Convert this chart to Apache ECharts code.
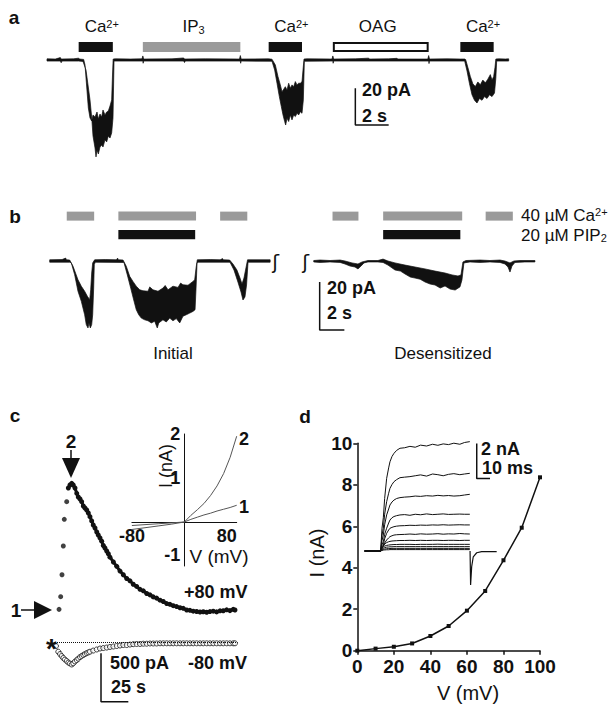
<!DOCTYPE html>
<html><head><meta charset="utf-8">
<script src="https://cdn.jsdelivr.net/npm/echarts@6/dist/echarts.min.js"></script>
<style>html,body{margin:0;padding:0;background:#fff}#c{width:615px;height:705px}</style>
</head><body><div id="c"></div>
<script>
// ================= DATA =================
// Panel a: current trace envelope [time s, current pA]
const aTraceUpper = [[0,0.6],[0.5,0.5],[0.8,1.3],[0.85,0.5],[1.6,0.6],[1.9,1.0],[1.95,0.5],[2.2,0.3],[2.28,-2.7],[2.48,-26.2],[2.58,-31.6],[2.68,-33.3],[2.76,-30],[2.88,-31.1],[3.0,-28.4],[3.08,-32.2],[3.18,-29.5],[3.28,-31.1],[3.36,-27.3],[3.48,-30],[3.58,-28.4],[3.68,-27.8],[3.78,-25.1],[3.88,-21.8],[3.93,-8.2],[3.97,0.5],
[4.1,0.6],[5.0,0.5],[5.7,0.6],[5.75,2.2],[5.8,0.5],[7.5,0.6],[8.2,1.1],[8.25,0.5],[9.5,0.6],[11.55,0.5],[11.6,2.4],[11.65,0.5],[13.3,0.6],[13.5,0.4],
[13.7,-2.7],[13.86,-9.1],[14.0,-13.6],[14.1,-17.3],[14.2,-16],[14.3,-14.6],[14.4,-16.4],[14.5,-12.7],[14.6,-15.4],[14.7,-13.6],[14.8,-14.6],[14.9,-11.8],[15.0,-13.6],[15.1,-12.7],[15.2,-12.7],[15.3,-11.8],[15.36,-5.5],[15.42,0.5],
[15.6,0.6],[17.1,0.5],[17.15,2.2],[17.2,0.5],[18.5,0.6],[19.3,1.0],[19.35,0.5],[20.5,0.6],[21.0,0.9],[21.05,0.5],[22.85,0.5],[22.9,2.4],[22.95,0.5],[24.0,0.6],[24.8,0.5],[25.06,0.5],
[25.12,0.2],[25.25,-4],[25.4,-9],[25.55,-13],[25.7,-14.5],[25.85,-12],[26.0,-13.5],[26.15,-11],[26.3,-12.5],[26.45,-10.5],[26.6,-8],[26.7,-11],[26.8,-9],[26.88,-4],[26.93,0.5],
[27.1,0.6],[27.5,0.5],[27.7,0.6]];
const aTraceLower = [[0,-0.6],[0.8,-0.6],[0.85,-1.5],[0.9,-0.6],[1.9,-0.6],[2.16,-0.8],[2.34,-5.5],[2.46,-13.6],[2.58,-21.8],[2.68,-31.1],[2.76,-41.5],[2.88,-48],[2.94,-52.9],[3.0,-49.1],[3.08,-51.3],[3.18,-47.5],[3.28,-46.4],[3.36,-47.5],[3.48,-43.6],[3.58,-44.7],[3.68,-41.5],[3.78,-42.6],[3.88,-39.8],[3.96,-31.6],[4.02,-0.6],
[5.75,-0.6],[5.77,-1.8],[5.8,-0.6],[8.2,-0.6],[8.25,-1.4],[8.3,-0.6],[11.6,-0.6],[11.62,-1.8],[11.65,-0.6],[13.5,-0.7],
[13.66,-5.5],[13.8,-12.7],[13.94,-20],[14.06,-25.5],[14.16,-30],[14.26,-33.6],[14.32,-35.5],[14.4,-31.8],[14.5,-33.6],[14.6,-30],[14.7,-32.7],[14.8,-30],[14.9,-30.9],[15.0,-29.1],[15.1,-30],[15.2,-28.2],[15.3,-29.1],[15.38,-21.8],[15.44,-0.7],
[17.15,-0.6],[17.17,-1.8],[17.2,-0.6],[22.9,-0.6],[22.92,-2.0],[22.95,-0.6],[25.06,-0.6],
[25.2,-6],[25.35,-13],[25.5,-19],[25.65,-22],[25.8,-23.5],[25.95,-21],[26.1,-22],[26.25,-20],[26.4,-21],[26.55,-19],[26.7,-20],[26.85,-18],[26.93,-10],[26.98,-0.6],
[27.7,-0.6]];
const aStimStart = [1.9, 5.75, 13.3, 17.15, 24.8];
const aStimEnd   = [3.95, 11.6, 15.3, 22.9, 26.8];
const aStimLabel = ['Ca^2+', 'IP_3', 'Ca^2+', 'OAG', 'Ca^2+'];
const aStimKind  = ['ca', 'ip3', 'ca', 'oag', 'ca'];
const aScale = {t: 18.5, i: -35.5, dt: 2, di: 20};
const aScaleLabels = ['20 pA', '2 s'];

// Panel b
const bInitUpper = [[0,0.5],[1.0,0.6],[1.3,1.2],[1.35,0.5],[1.62,0.4],[1.89,-2.2],[2.29,-7.8],[2.56,-10.5],[2.83,-12.6],[3.05,-14.7],[3.24,-16.1],[3.32,-12],[3.40,-5],[3.48,-0.8],[3.64,0.5],[4.5,0.6],[5.4,0.5],[5.5,1.2],[5.55,0.5],[5.94,0.4],
[6.2,-2.2],[6.48,-6.4],[6.74,-8.5],[7.01,-10.5],[7.29,-12],[7.55,-12.4],[7.96,-12.6],[8.1,-10.8],[8.36,-12],[8.77,-12.6],[9.17,-11.3],[9.35,-10.2],[9.58,-12],[9.98,-10.5],[10.39,-11],[10.6,-9.2],[10.79,-9.9],[11.2,-10.1],[11.6,-8.5],[11.74,-7.8],[11.85,-2.9],[11.95,0.5],
[13.0,0.6],[13.8,0.5],[14.0,1.0],[14.05,0.5],[14.57,0.4],[14.84,-1.25],[15.16,-3.75],[15.41,-7.1],[15.57,-9.6],[15.73,-7.1],[15.89,-2.9],[16.02,0.5],[17.85,0.5]];
const bInitLower = [[0,-0.5],[1.62,-0.5],[1.75,-0.8],[2.02,-5.7],[2.29,-12.6],[2.56,-16.8],[2.83,-22.4],[2.96,-26.5],[3.10,-27.9],[3.18,-25.8],[3.29,-27.9],[3.40,-26.5],[3.48,-22.4],[3.56,-11.3],[3.61,-1.5],[3.69,-0.5],
[6.0,-0.6],[6.02,-0.8],[6.28,-5.7],[6.56,-11.3],[6.83,-16.8],[7.01,-20.3],[7.21,-22.4],[7.42,-23.8],[7.69,-24.5],[7.96,-24.9],[8.23,-25.8],[8.5,-25.1],[8.71,-27.9],[8.83,-25.8],[9.17,-24.5],[9.44,-25.4],[9.72,-23.8],[9.98,-24.9],[10.25,-24],[10.53,-25.8],[10.79,-23],[11.06,-22.4],[11.34,-21.7],[11.6,-21],[11.77,-20.3],[11.85,-11.3],[11.93,-0.8],[12.0,-0.5],
[14.6,-0.5],[14.92,-3.75],[15.24,-8.75],[15.49,-12.9],[15.65,-16.25],[15.81,-15],[15.94,-10],[16.06,-0.5],[17.85,-0.5]];
const bDesUpper = [[21.38,0.2],[21.89,0.4],[22.7,0.2],[23.51,0.4],[23.91,0],[24.48,-0.8],[24.96,-1.25],[25.29,-0.4],[25.77,0.2],[26.58,0.2],[26.99,0.8],[27.39,0],[27.96,-0.8],[28.77,-1.7],[29.58,-2.5],[30.39,-3.3],[31.2,-4.2],[32.01,-5],[32.58,-5.8],[33.06,-6.25],[33.3,-5.8],[33.46,-0.4],[33.71,0.2],[34.84,0.4],[35.65,0.2],[36.46,0.4],[36.86,0],[37.27,-0.8],[37.59,0],[38.08,0.2],[39.29,0.2]];
const bDesLower = [[21.38,-0.4],[21.89,-0.6],[22.7,-0.4],[23.51,-0.6],[23.91,-1.25],[24.32,-2.1],[24.72,-2.5],[24.96,-3.3],[25.21,-2.1],[25.45,-0.8],[25.77,-0.4],[26.58,-0.4],[26.99,-0.6],[27.39,-1.7],[27.96,-3.75],[28.4,-4.2],[28.77,-5.4],[29.2,-6.7],[29.58,-7.1],[30.0,-7.6],[30.39,-8.75],[30.8,-9.6],[31.2,-10],[31.62,-11.25],[32.01,-10.4],[32.42,-11.7],[32.83,-12.1],[33.22,-10.8],[33.38,-7.9],[33.54,-0.8],[34.03,-0.4],[34.84,-0.6],[35.65,-0.4],[36.46,-0.6],[36.86,-1.25],[37.11,-2.5],[37.27,-4.6],[37.43,-2.1],[37.67,-0.6],[38.48,-0.4],[39.29,-0.4]];
const bCaStart = [1.38, 5.56, 13.8, 22.9, 27.0, 35.3];
const bCaEnd   = [3.6, 11.85, 16.0, 25.0, 33.4, 37.5];
const bPipStart = [5.56, 27.0];
const bPipEnd   = [11.78, 33.25];
const bRowLabels = ['40 µM Ca^2+', '20 µM PIP_2'];
const bConditions = ['Initial', 'Desensitized'];
const bScale = {t: 21.86, i: -28.75, dt: 2, di: 20};
const bScaleLabels = ['20 pA', '2 s'];

// Panel c: [time s, current pA]
const plus80Rise = [[3.7,345],[5.2,476],[6.4,703],[7.6,1000],[8.5,1276],[10.7,1458]];
const plus80Decay = [[12.2,1600],[13.7,1631],[15.3,1648],[16.7,1631],[18.3,1600],[19.9,1545],[21.3,1507],[22.9,1486],[24.4,1458],[25.9,1414],[27.4,1393],[29.0,1372],[30.5,1341],[32.0,1303],[33.6,1259],[35.0,1217],[36.6,1186],[38.2,1145],[39.6,1114],[41.2,1083],[42.7,1050],[44.2,1005],[45.7,979],[47.3,948],[48.8,920],[50.3,885],[53.4,835],[56.5,790],[59.5,741],[62.5,703],[65.6,664],[68.6,640],[71.6,605],[74.7,582],[77.8,552],[80.8,537],[83.9,509],[86.9,495],[89.9,474],[93.0,461],[96.1,440],[99.1,426],[102.2,405],[105.2,397],[108.2,383],[111.3,374],[114.4,362],[117.4,356],[120.5,338],[123.5,335],[126.5,326],[129.6,323],[132.7,318],[135.7,320],[138.8,315],[141.8,322],[144.8,326],[147.9,319],[151.0,330],[154.0,331],[157.1,340],[160.1,332],[163.1,345],[164.7,338]];
const minus80 = [[0.9,-34],[3.0,-93],[4.6,-117],[6.1,-138],[7.6,-158],[9.1,-174],[10.7,-189],[12.2,-205],[13.7,-215],[15.3,-225],[16.7,-213],[18.3,-194],[19.9,-179],[21.3,-165],[22.9,-148],[24.4,-137],[25.9,-127],[27.4,-117],[29.0,-107],[30.5,-100],[32.0,-93],[35.0,-81],[38.2,-70],[41.2,-60],[44.2,-55],[47.3,-50],[50.3,-44],[53.4,-39],[56.5,-34],[59.5,-29],[62.5,-24],[65.6,-24],[68.6,-19],[71.6,-15],[74.7,-13],[77.8,-13],[80.8,-10],[83.9,-10],[86.9,-8],[89.9,-8],[93,-8],[96.1,-6],[99.1,-6],[102.2,-6],[105.2,-6],[108.2,-6],[111.3,-6],[114.4,-6],[117.4,-6],[120.5,-6],[123.5,-6],[126.5,-6],[129.6,-6],[132.7,-6],[135.7,-6],[138.8,-6],[141.8,-6],[144.8,-6],[147.9,-6],[151,-6],[154,-6],[157.1,-6],[160.1,-6],[163.1,-6],[164.7,-6]];
const cScale = {t: 42.1, i: -610, dt: 25, di: 500};
const cScaleLabels = ['500 pA', '25 s'];
const cTraceLabels = ['+80 mV', '-80 mV'];
// Panel c inset I-V (V mV, I nA)
const insetV = [-80,-60,-40,-20,0,10,20,30,40,50,60,70,80];
const insetI1 = [-0.17,-0.13,-0.09,-0.05,0,0.06,0.11,0.16,0.2,0.25,0.29,0.33,0.38];
const insetI2 = [-0.08,-0.06,-0.04,-0.02,0,0.15,0.28,0.42,0.6,0.82,1.1,1.47,1.95];

// Panel d: I-V relation
const ivV = [0,10,20,30,40,50,60,70,80,90,100];
const ivI = [0,0.1,0.19,0.35,0.71,1.19,1.93,2.88,4.36,5.93,8.36];
// Panel d inset: current families (time ms, current nA)
const dT = [-12,0,1,2,3,4.5,6,7,8.5,10,12,14.5,18,22,26,30,34.5,39,43,47,51,55,59.5,63,67];
const dTraces = [
 [0,0,1.3,1.9,3.0,4.15,4.75,5.1,5.4,5.58,5.75,5.87,5.9,5.98,5.93,6.05,6.0,6.1,6.04,6.12,6.08,6.16,6.1,6.2,6.25],
 [0,0,0.9,1.3,2.1,2.82,3.3,3.58,3.8,3.96,4.08,4.19,4.22,4.25,4.3,4.35,4.28,4.4,4.36,4.3,4.38,4.42,4.36,4.4,4.44],
 [0,0,0.6,0.91,1.5,2.06,2.4,2.63,2.8,2.91,3.0,3.05,3.08,3.1,3.14,3.12,3.16,3.14,3.18,3.15,3.17,3.14,3.16,3.2,3.24],
 [0,0,0.35,0.53,0.95,1.3,1.6,1.77,1.9,1.97,2.02,2.06,2.08,2.04,2.1,2.07,2.12,2.08,2.1,2.12,2.09,2.1,2.11,2.1,2.1],
 [0,0,0.25,0.34,0.7,1.01,1.2,1.3,1.35,1.39,1.42,1.44,1.45,1.47,1.46,1.48,1.47,1.49,1.48,1.5,1.48,1.49,1.5,1.49,1.49],
 [0,0,0.18,0.25,0.45,0.63,0.75,0.82,0.87,0.91,0.93,0.94,0.95,0.97,0.95,0.98,0.96,0.97,0.99,0.96,0.98,0.97,1.0,0.98,0.97],
 [0,0,0.2,0.3,0.4,0.48,0.53,0.55,0.57,0.58,0.59,0.6,0.6,0.61,0.6,0.61,0.6,0.61,0.61,0.6,0.61,0.61,0.6,0.61,0.61],
 [0,0,0.15,0.22,0.28,0.32,0.34,0.35,0.36,0.37,0.37,0.38,0.38,0.38,0.37,0.38,0.38,0.38,0.39,0.38,0.38,0.38,0.38,0.38,0.38],
 [0,0,0.1,0.15,0.19,0.22,0.23,0.24,0.24,0.25,0.25,0.25,0.25,0.25,0.25,0.25,0.25,0.25,0.25,0.25,0.25,0.25,0.25,0.25,0.25],
 [0,0,0.06,0.09,0.11,0.13,0.14,0.14,0.15,0.15,0.15,0.15,0.15,0.15,0.15,0.15,0.15,0.15,0.15,0.15,0.15,0.15,0.15,0.15,0.15],
 [0,0,0.03,0.05,0.06,0.07,0.07,0.08,0.08,0.08,0.08,0.08,0.08,0.08,0.08,0.08,0.08,0.08,0.08,0.08,0.08,0.08,0.08,0.08,0.08]
];
const dTailT = [67.2,67.6,68.4,69.6,72.2,75.9,87.2];
const dTailI = [0,-1.94,-0.9,-0.33,-0.1,-0.04,-0.04];
const dScale = {t: 72.2, i: 4.15, dt: 10, di: 2};
const dScaleLabels = ['2 nA', '10 ms'];
const panelLetters = ['a', 'b', 'c', 'd'];

// ================= RENDERING =================
const FF = '"Liberation Sans", Arial, Helvetica, sans-serif';
const INK = '#111';
const GRAY = '#9a9a9a';

function toRich(s) {
  const m = s.match(/^(.*?)([\^_])(.+)$/);
  if (!m) return '{n|' + s + '}';
  return '{n|' + m[1] + '}{' + (m[2] === '^' ? 'sup' : 'sub') + '|' + m[3] + '}';
}
function richStyles(size, w) {
  const small = Math.round(size * 0.64);
  return {
    n: {fontSize: size, fontFamily: FF, fontWeight: w || 'normal', fill: INK, color: INK},
    sup: {fontSize: small, fontFamily: FF, fontWeight: w || 'normal', fill: INK, color: INK, verticalAlign: 'top'},
    sub: {fontSize: small, fontFamily: FF, fontWeight: w || 'normal', fill: INK, color: INK, verticalAlign: 'bottom'}
  };
}
function T(x, y, text, o) {
  o = o || {};
  const size = o.s || 18;
  const style = {
    text: o.rich ? toRich(text) : text, fill: INK,
    font: (o.w || 'normal') + ' ' + size + 'px ' + (o.ff || FF),
    align: o.a || 'left', textAlign: o.a || 'left',
    verticalAlign: 'middle', textVerticalAlign: 'middle'
  };
  if (o.rich) style.rich = richStyles(size, o.w);
  return {type: 'text', x: x, y: y, rotation: o.rot || 0, z: 50, silent: true, style: style};
}
function envelopeSeries(gi, upper, lower) {
  return {
    type: 'custom', xAxisIndex: gi, yAxisIndex: gi, silent: true, clip: false,
    data: [upper[0]],
    renderItem: function (params, api) {
      const pts = upper.map(p => api.coord(p)).concat(lower.slice().reverse().map(p => api.coord(p)));
      return {type: 'polygon', shape: {points: pts}, style: {fill: INK, stroke: INK, lineWidth: 0.7}};
    }
  };
}
function stimSeries(gi, starts, ends, level, h, styleFn, labels) {
  return {
    type: 'custom', xAxisIndex: gi, yAxisIndex: gi, silent: true, clip: false,
    data: starts.map((s, i) => [s, ends[i], level]),
    encode: {x: [0, 1], y: 2},
    renderItem: function (params, api) {
      const i = params.dataIndex;
      const p0 = api.coord([api.value(0), level]);
      const p1 = api.coord([api.value(1), level]);
      const st = styleFn(i);
      const ins = st.inset || 0;
      const children = [{
        type: 'rect',
        shape: {x: p0[0] + ins, y: p0[1] - h / 2 + ins, width: p1[0] - p0[0] - 2 * ins, height: h - 2 * ins},
        style: {fill: st.fill, stroke: st.stroke || null, lineWidth: st.lw || 0}
      }];
      if (labels) {
        children.push({
          type: 'text', x: (p0[0] + p1[0]) / 2 + (st.dx || 0), y: p0[1] - 20,
          style: {text: toRich(labels[i]), rich: richStyles(17), fill: INK, font: '17px ' + FF,
            align: 'center', textAlign: 'center', verticalAlign: 'middle', textVerticalAlign: 'middle'}
        });
      }
      return {type: 'group', children: children};
    }
  };
}
function scaleSeries(gi, s) {
  return {
    type: 'line', xAxisIndex: gi, yAxisIndex: gi, silent: true, symbol: 'none', clip: false,
    data: [[s.t, s.i + s.di], [s.t, s.i], [s.t + s.dt, s.i]],
    lineStyle: {color: INK, width: 1.5}
  };
}
function hiddenAxes(gi, xmin, xmax, ymin, ymax) {
  return [
    {gridIndex: gi, type: 'value', min: xmin, max: xmax, show: false},
    {gridIndex: gi, type: 'value', min: ymin, max: ymax, show: false}
  ];
}
const zip = (xs, ys) => xs.map((x, i) => [x, ys[i]]);

const grids = [
  {left: 47, top: 23.3, width: 550, height: 139.3},      // 0 a
  {left: 49.7, top: 208.2, width: 555.75, height: 124.8}, // 1 b
  {left: 55, top: 478.3, width: 182.5, height: 224.4},    // 2 c main
  {left: 131.9, top: 434, width: 104.8, height: 132},     // 3 c inset
  {left: 357.3, top: 443.3, width: 182.7, height: 207.4}, // 4 d main
  {left: 364.7, top: 439, width: 135.7, height: 150.5}    // 5 d inset
].map(g => Object.assign({containLabel: false, outerBoundsMode: 'none', show: false}, g));

// inset c: axes cross at the origin (V = 0, I = 0)
const insetXRange = [-80, 80], insetYRange = [-1, 2];
const insetXAxisShift = -grids[3].height * (0 - insetYRange[0]) / (insetYRange[1] - insetYRange[0]);
const insetYAxisShift = -grids[3].width * (0 - insetXRange[0]) / (insetXRange[1] - insetXRange[0]);

const ax = [
  hiddenAxes(0, 0, 33, -56, 20),
  hiddenAxes(1, 0, 45, -30, 22),
  hiddenAxes(2, 0, 167, -620, 1700),
  null,
  null,
  hiddenAxes(5, -12, 90, -2.2, 6.4)
];
const lblStyle = {color: INK, fontFamily: FF, fontWeight: 'bold'};
const xAxes = [ax[0][0], ax[1][0], ax[2][0],
  {gridIndex: 3, type: 'value', min: insetXRange[0], max: insetXRange[1], interval: 80,
    offset: insetXAxisShift,
    axisLine: {show: true, onZero: false, lineStyle: {color: INK, width: 1}},
    axisTick: {show: false}, splitLine: {show: false},
    axisLabel: Object.assign({fontSize: 18, margin: 5, alignMaxLabel: 'right',
      formatter: v => (v === 0 ? '' : String(v))}, lblStyle)},
  {gridIndex: 4, type: 'value', min: 0, max: 100, interval: 20,
    axisLine: {show: true, onZero: false, lineStyle: {color: INK, width: 1.5}},
    axisTick: {show: true, length: 4, lineStyle: {color: INK, width: 1.5}},
    splitLine: {show: false},
    axisLabel: Object.assign({fontSize: 19, margin: 6}, lblStyle)},
  ax[5][0]];
const yAxes = [ax[0][1], ax[1][1], ax[2][1],
  {gridIndex: 3, type: 'value', min: insetYRange[0], max: insetYRange[1], interval: 1,
    offset: insetYAxisShift,
    axisLine: {show: true, onZero: false, lineStyle: {color: INK, width: 1}},
    axisTick: {show: false}, splitLine: {show: false},
    axisLabel: Object.assign({fontSize: 18, margin: 4,
      formatter: v => (v === 0 ? '' : (v === -1 ? '{lo|-1}' : String(v))),
      rich: {lo: {fontSize: 18, fontWeight: 'bold', fontFamily: FF, color: INK, padding: [0, 0, 22, 0]}}}, lblStyle)},
  {gridIndex: 4, type: 'value', min: 0, max: 10, interval: 2,
    axisLine: {show: true, onZero: false, lineStyle: {color: INK, width: 1.5}},
    axisTick: {show: true, length: 4, lineStyle: {color: INK, width: 1.5}},
    splitLine: {show: false},
    axisLabel: Object.assign({fontSize: 19, margin: 5}, lblStyle)},
  ax[5][1]];

const series = [
  // Panel a
  envelopeSeries(0, aTraceUpper, aTraceLower),
  stimSeries(0, aStimStart, aStimEnd, 7.1, 10, i => {
    const k = aStimKind[i];
    if (k === 'ca') return {fill: INK, dx: 6};
    if (k === 'ip3') return {fill: GRAY, dx: 2};
    return {fill: '#fff', stroke: INK, lw: 2, inset: 1, dx: -3};
  }, aStimLabel),
  scaleSeries(0, aScale),
  // Panel b
  envelopeSeries(1, bInitUpper, bInitLower),
  envelopeSeries(1, bDesUpper, bDesLower),
  stimSeries(1, bCaStart, bCaEnd, 18.7, 9, () => ({fill: GRAY})),
  stimSeries(1, bPipStart, bPipEnd, 11.0, 9.3, () => ({fill: INK})),
  scaleSeries(1, bScale),
  // Panel c
  {type: 'scatter', xAxisIndex: 2, yAxisIndex: 2, silent: true, data: minus80, symbol: 'circle', symbolSize: 5,
    itemStyle: {color: '#fff', borderColor: INK, borderWidth: 1},
    markLine: {silent: true, symbol: 'none', label: {show: false},
      lineStyle: {type: 'dotted', color: INK, width: 1}, data: [{yAxis: 0}]}},
  {type: 'scatter', xAxisIndex: 2, yAxisIndex: 2, silent: true, data: plus80Rise, symbol: 'circle', symbolSize: 5,
    itemStyle: {color: INK}},
  {type: 'line', xAxisIndex: 2, yAxisIndex: 2, silent: true, data: plus80Decay, symbol: 'circle', symbolSize: 5,
    showSymbol: true, lineStyle: {color: INK, width: 3}, itemStyle: {color: INK}},
  scaleSeries(2, cScale),
  // Panel c inset
  {type: 'line', xAxisIndex: 3, yAxisIndex: 3, silent: true, symbol: 'none', data: zip(insetV, insetI1),
    lineStyle: {color: '#555', width: 1}},
  {type: 'line', xAxisIndex: 3, yAxisIndex: 3, silent: true, symbol: 'none', data: zip(insetV, insetI2),
    lineStyle: {color: '#555', width: 1}},
  // Panel d
  {type: 'line', xAxisIndex: 4, yAxisIndex: 4, silent: true, data: zip(ivV, ivI), symbol: 'rect', symbolSize: 4,
    lineStyle: {color: INK, width: 1.5}, itemStyle: {color: INK}},
  ...dTraces.map(tr => ({type: 'line', xAxisIndex: 5, yAxisIndex: 5, silent: true, symbol: 'none',
    data: zip(dT, tr), lineStyle: {color: INK, width: 1}})),
  {type: 'line', xAxisIndex: 5, yAxisIndex: 5, silent: true, symbol: 'none', data: zip(dTailT, dTailI),
    lineStyle: {color: INK, width: 1.2}},
  scaleSeries(5, dScale)
];

const graphics = [
  T(14, 17, panelLetters[0], {w: 'bold', s: 19, a: 'center'}),
  T(15, 216, panelLetters[1], {w: 'bold', s: 19, a: 'center'}),
  T(15, 415, panelLetters[2], {w: 'bold', s: 19, a: 'center'}),
  T(305, 416, panelLetters[3], {w: 'bold', s: 19, a: 'center'}),
  // a scale
  T(362, 90, aScaleLabels[0], {w: 'bold', s: 18}),
  T(362, 116, aScaleLabels[1], {w: 'bold', s: 18}),
  // b
  T(521, 215, bRowLabels[0], {s: 17, rich: true}),
  T(521, 235, bRowLabels[1], {s: 17, rich: true}),
  T(173, 353, bConditions[0], {s: 17, a: 'center'}),
  T(443, 353, bConditions[1], {s: 17, a: 'center'}),
  T(327, 288, bScaleLabels[0], {w: 'bold', s: 18}),
  T(327, 313, bScaleLabels[1], {w: 'bold', s: 18}),
  T(275.5, 262, 'ʃ', {s: 20, a: 'center', ff: '"DejaVu Sans", sans-serif'}),
  T(305.5, 262, 'ʃ', {s: 20, a: 'center', ff: '"DejaVu Sans", sans-serif'}),
  // c
  T(71, 441, '2', {w: 'bold', s: 19, a: 'center'}),
  T(16, 610, '1', {w: 'bold', s: 19, a: 'center'}),
  T(51.5, 648, '*', {w: 'bold', s: 28, a: 'center'}),
  T(184, 592, cTraceLabels[0], {w: 'bold', s: 18}),
  T(188, 663, cTraceLabels[1], {w: 'bold', s: 18}),
  T(110, 663, cScaleLabels[0], {w: 'bold', s: 18}),
  T(111, 687, cScaleLabels[1], {w: 'bold', s: 18}),
  {type: 'line', silent: true, z: 50, shape: {x1: 21, y1: 610, x2: 36, y2: 610}, style: {stroke: INK, lineWidth: 1.5}},
  {type: 'polygon', silent: true, z: 50, shape: {points: [[34, 601], [52, 610], [34, 619]]}, style: {fill: INK}},
  {type: 'line', silent: true, z: 50, shape: {x1: 71, y1: 450, x2: 71, y2: 460}, style: {stroke: INK, lineWidth: 1.5}},
  {type: 'polygon', silent: true, z: 50, shape: {points: [[62, 458], [80, 458], [71, 478]]}, style: {fill: INK}},
  // c inset
  T(166, 466, 'I (nA)', {s: 18, a: 'center', rot: Math.PI / 2}),
  T(219, 556, 'V (mV)', {s: 19, a: 'center'}),
  T(244, 439, '2', {w: 'bold', s: 18, a: 'center'}),
  T(244, 507, '1', {w: 'bold', s: 18, a: 'center'}),
  // d
  T(481, 449, dScaleLabels[0], {w: 'bold', s: 18}),
  T(482, 468, dScaleLabels[1], {w: 'bold', s: 18}),
  T(317, 553, 'I (nA)', {s: 20, a: 'center', rot: Math.PI / 2}),
  T(468, 693, 'V (mV)', {s: 20, a: 'center'})
];

const chart = echarts.init(document.getElementById('c'), null, {renderer: 'svg', width: 615, height: 705});
chart.setOption({
  animation: false,
  backgroundColor: '#fff',
  textStyle: {fontFamily: FF},
  grid: grids,
  xAxis: xAxes,
  yAxis: yAxes,
  series: series,
  graphic: {elements: graphics}
});
</script></body></html>
